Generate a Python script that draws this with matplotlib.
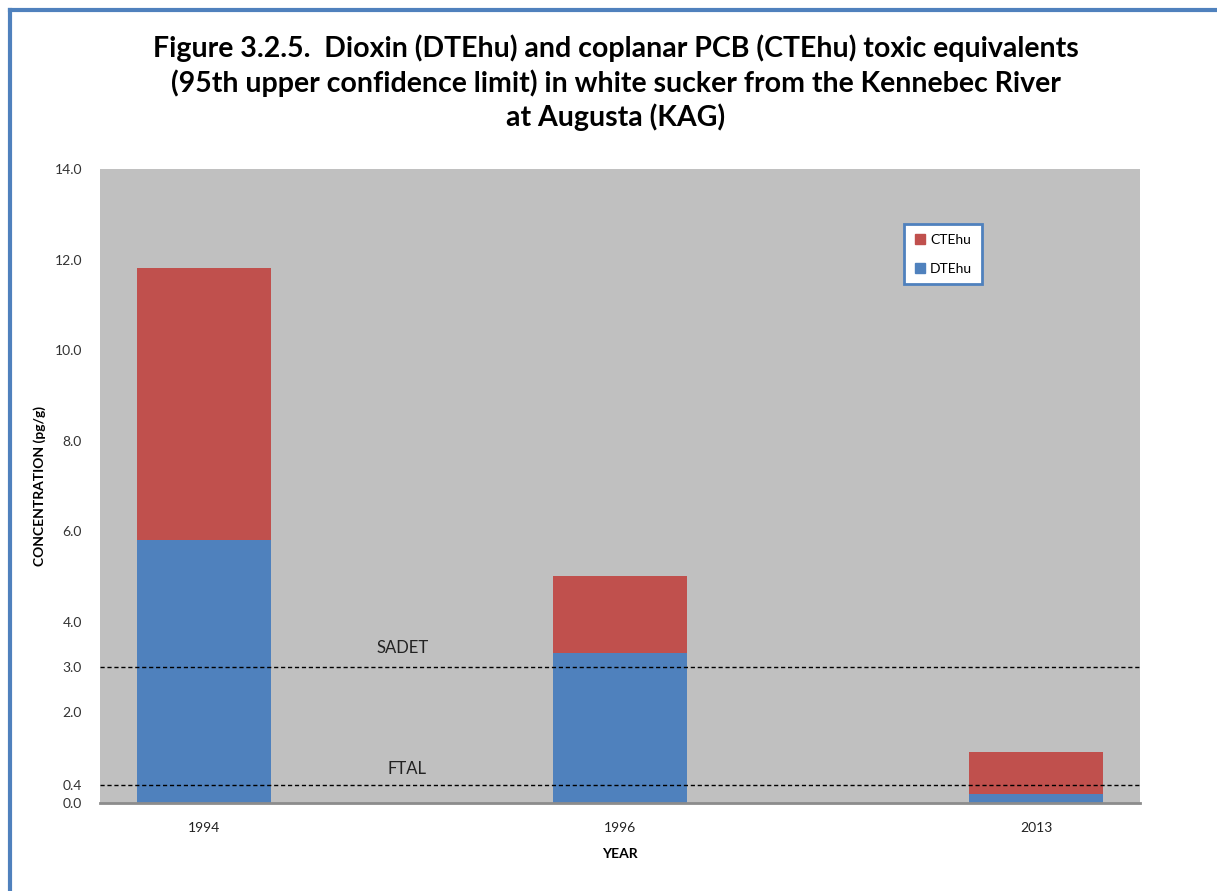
"""Stacked bars of dioxin and coplanar PCB toxic equivalents, Kennebec River at Augusta."""

import matplotlib
matplotlib.use("Agg")
import matplotlib.pyplot as plt
from matplotlib.lines import Line2D

years = ["1994", "1996", "2013"]
dtehu = [5.81, 3.31, 0.20]
ctehu = [6.00, 1.70, 0.93]

ytick_values = [0.0, 0.4, 2.0, 3.0, 4.0, 6.0, 8.0, 10.0, 12.0, 14.0]
sadet = 3.0
ftal = 0.4

RED = "#c0504d"
BLUE = "#4f81bd"
BG = "#c0c0c0"

plt.rcParams["font.family"] = ["Lato", "DejaVu Sans"]

fig = plt.figure(figsize=(12.17, 8.91), dpi=100)
ax = fig.add_axes([100 / 1217, 1 - 803 / 891, 1040 / 1217, 634 / 891])
ax.set_facecolor(BG)

x = list(range(len(years)))
width = 0.32
ax.bar(x, dtehu, width, color=BLUE, label="DTEhu", zorder=2)
ax.bar(x, ctehu, width, bottom=dtehu, color=RED, label="CTEhu", zorder=2)

ax.axhline(sadet, color="black", lw=1, ls=(0, (3, 2)), zorder=3)
ax.axhline(ftal, color="black", lw=1, ls=(0, (3, 2)), zorder=3)
ax.text(0.478, sadet + 0.25, "SADET", fontsize=12, color="#222222", ha="center", va="bottom")
ax.text(0.488, ftal + 0.18, "FTAL", fontsize=12, color="#222222", ha="center", va="bottom")

ax.set_xlim(-0.25, 2.25)
ax.set_ylim(0, 14)
ax.set_xticks(x)
ax.set_xticklabels(years, fontsize=10, color="#222222")
ax.set_yticks(ytick_values)
ax.set_yticklabels([f"{v:.1f}" for v in ytick_values], fontsize=10, color="#333333")
ax.tick_params(axis="y", length=0, pad=13)
ax.tick_params(axis="x", length=0, pad=14)

for side in ["top", "right", "left"]:
    ax.spines[side].set_visible(False)
ax.spines["bottom"].set_color("#8c8c8c")
ax.spines["bottom"].set_linewidth(2)

ax.set_xlabel("YEAR", fontsize=10, fontweight="bold", labelpad=10)
ax.set_ylabel("CONCENTRATION (pg/g)", fontsize=10, fontweight="bold", labelpad=6)

handles = [Line2D([], [], marker="s", ls="", color=RED, markersize=7),
           Line2D([], [], marker="s", ls="", color=BLUE, markersize=7)]
leg = ax.legend(handles, ["CTEhu", "DTEhu"], loc="upper left",
                bbox_to_anchor=(0.766, 0.924), frameon=True, fancybox=False,
                framealpha=1, fontsize=10, handletextpad=0.2, labelspacing=1.2,
                borderpad=0.7, handlelength=1.0)
leg.get_frame().set_edgecolor(BLUE)
leg.get_frame().set_linewidth(2)

fig.text(616 / 1217, 1 - 83 / 891,
         "Figure 3.2.5.  Dioxin (DTEhu) and coplanar PCB (CTEhu) toxic equivalents\n"
         "(95th upper confidence limit) in white sucker from the Kennebec River\n"
         "at Augusta (KAG)",
         ha="center", va="center", fontsize=20.5, fontweight="bold",
         linespacing=1.3)

# blue page frame along the top and left edges
fig.add_artist(Line2D([10 / 1217, 10 / 1217], [0, 1 - 10 / 891], color=BLUE, lw=3))
fig.add_artist(Line2D([10 / 1217, 1], [1 - 10 / 891, 1 - 10 / 891], color=BLUE, lw=3))

fig.savefig("out.png", dpi=100)
